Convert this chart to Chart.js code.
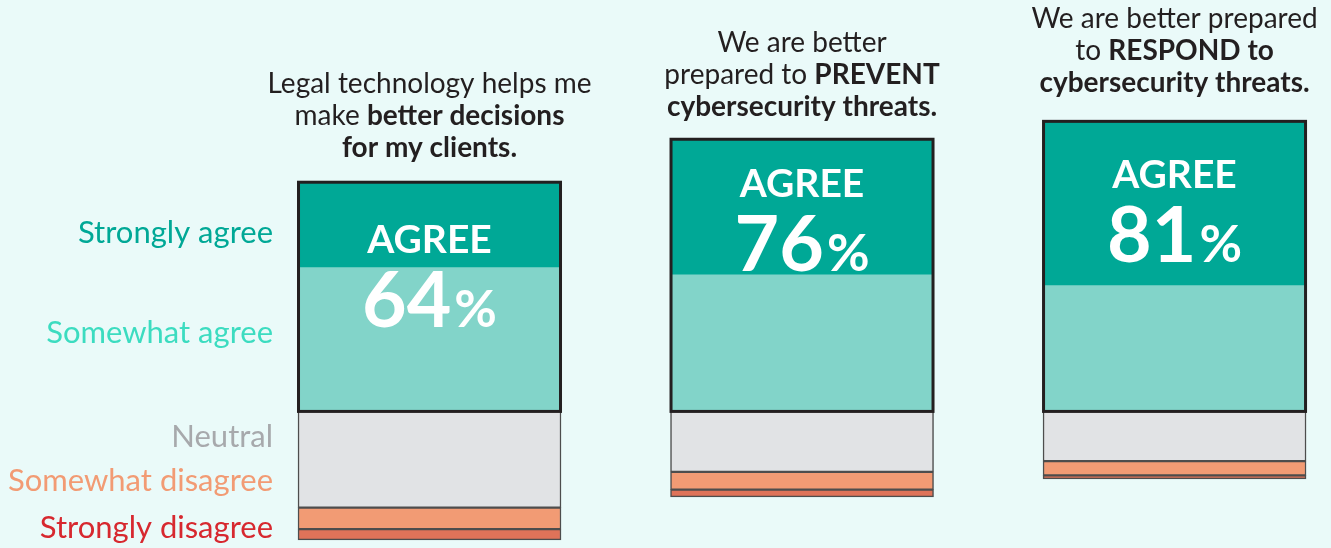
<!DOCTYPE html>
<html><head><meta charset="utf-8">
<script src="https://cdn.jsdelivr.net/npm/chart.js@4.4.1/dist/chart.umd.min.js"></script>
<style>
html,body{margin:0;padding:0;background:#EAFAF9;overflow:hidden}
#wrap{width:1331px;height:548px;position:relative}
canvas{display:block}
</style></head><body>
<div id="wrap"><canvas id="c" width="1331" height="548"></canvas></div>
<script>
// ---- data ----
const categories = [
  ['Legal technology helps me', 'make **better decisions**', '**for my clients.**'],
  ['We are better', 'prepared to **PREVENT**', '**cybersecurity threats.**'],
  ['We are better prepared', 'to **RESPOND to**', '**cybersecurity threats.**']
];
const responseLabels = ['Strongly agree', 'Somewhat agree', 'Neutral', 'Somewhat disagree', 'Strongly disagree'];
const stronglyAgree    = [24, 38, 46];
const somewhatAgree    = [40, 38, 35];
const neutral          = [27, 17, 14];
const somewhatDisagree = [6, 5, 4];
const stronglyDisagree = [3, 2, 1];
const bigLabel = 'AGREE';

// ---- layout / style ----
const FONT = 'Lato, "Noto Sans", sans-serif';
const COL = { sa: '#00A896', swa: '#82D4C9', n: '#E1E3E5', swd: '#F29B74', sd: '#DF7359' };
const sideLabelColors = ['#00A896', '#3CDCC0', '#A7A9AC', '#F29B74', '#D7282F'];
const sideLabelAt = [47, 19, -10, -22.5, -35.5];   // value-axis anchors for the side labels
const titleGap = [25, 23, 29];
const agreeOffset = [71, 58, 67];

const pos = arr => arr.map((v, i) => ({ x: i, y: v }));
const neg = arr => arr.map((v, i) => ({ x: i, y: -v }));

const lowerStyle = { borderColor: '#4d4d4d', borderWidth: 1.5, borderSkipped: false };

function drawRich(ctx, line, cx, by, size) {
  const parts = line.split('**').map((t, k) => ({ t, b: k % 2 === 1 })).filter(p => p.t.length);
  let total = 0;
  parts.forEach(p => { ctx.font = (p.b ? '700 ' : '400 ') + size + 'px ' + FONT; p.w = ctx.measureText(p.t).width; total += p.w; });
  let x = cx - total / 2;
  parts.forEach(p => { ctx.font = (p.b ? '700 ' : '400 ') + size + 'px ' + FONT; ctx.fillText(p.t, x, by); x += p.w; });
}

const overlay = {
  id: 'overlay',
  afterDatasetsDraw(chart) {
    const ctx = chart.ctx, ys = chart.scales.y;
    const swaMeta = chart.getDatasetMeta(0), saMeta = chart.getDatasetMeta(1);
    ctx.save();
    categories.forEach((lines, i) => {
      const topEl = saMeta.data[i], botEl = swaMeta.data[i];
      const left = topEl.x - topEl.width / 2, w = topEl.width;
      const yTop = topEl.y, yBot = botEl.base;
      // agree outline
      ctx.strokeStyle = '#231F20';
      ctx.lineWidth = 3;
      ctx.strokeRect(left + 0.5, yTop + 0.5, w - 1, yBot - yTop);
      // title
      ctx.fillStyle = '#231F20';
      ctx.textAlign = 'left';
      ctx.textBaseline = 'alphabetic';
      lines.forEach((ln, k) => {
        const by = yTop - titleGap[i] - (lines.length - 1 - k) * 32;
        drawRich(ctx, ln, topEl.x, by, 28);
      });
      // AGREE + percentage
      ctx.fillStyle = '#FFFFFF';
      ctx.textAlign = 'center';
      ctx.font = '700 39px ' + FONT;
      const ay = yTop + agreeOffset[i];
      ctx.fillText(bigLabel, topEl.x, ay);
      const num = String(stronglyAgree[i] + somewhatAgree[i]);
      ctx.font = '700 77px ' + FONT;
      const nw = ctx.measureText(num).width;
      ctx.font = '700 52px ' + FONT;
      const pw = ctx.measureText('%').width;
      const gap = 3;
      let x0 = topEl.x - (nw + gap + pw) / 2;
      ctx.textAlign = 'left';
      ctx.font = '700 77px ' + FONT;
      ctx.fillText(num, x0, ay + 74);
      ctx.font = '700 52px ' + FONT;
      ctx.fillText('%', x0 + nw + gap, ay + 74);
    });
    // side labels next to first bar
    const first = saMeta.data[0];
    const lx = first.x - first.width / 2 - 25;
    ctx.textAlign = 'right';
    ctx.textBaseline = 'alphabetic';
    ctx.font = '400 31px ' + FONT;
    responseLabels.forEach((t, k) => {
      ctx.fillStyle = sideLabelColors[k];
      ctx.fillText(t, lx, ys.getPixelForValue(sideLabelAt[k]));
    });
    ctx.restore();
  }
};

new Chart(document.getElementById('c'), {
  type: 'bar',
  data: {
    datasets: [
      { label: responseLabels[1], data: pos(somewhatAgree), backgroundColor: COL.swa, borderWidth: 0, stack: 's' },
      { label: responseLabels[0], data: pos(stronglyAgree), backgroundColor: COL.sa, borderWidth: 0, stack: 's' },
      Object.assign({ label: responseLabels[2], data: neg(neutral), backgroundColor: COL.n, stack: 's' }, lowerStyle),
      Object.assign({ label: responseLabels[3], data: neg(somewhatDisagree), backgroundColor: COL.swd, stack: 's' }, lowerStyle),
      Object.assign({ label: responseLabels[4], data: neg(stronglyDisagree), backgroundColor: COL.sd, stack: 's' }, lowerStyle)
    ]
  },
  options: {
    responsive: false,
    animation: false,
    layout: { padding: { top: 17, bottom: 1, left: 0, right: 0 } },
    datasets: { bar: { barThickness: 263 } },
    plugins: { legend: { display: false }, tooltip: { enabled: false } },
    scales: {
      x: { type: 'linear', min: -1.153, max: 2.42, offset: false, stacked: true, display: false },
      y: { stacked: true, min: -38, max: 110, display: false }
    }
  },
  plugins: [overlay]
});
</script>
</body></html>
